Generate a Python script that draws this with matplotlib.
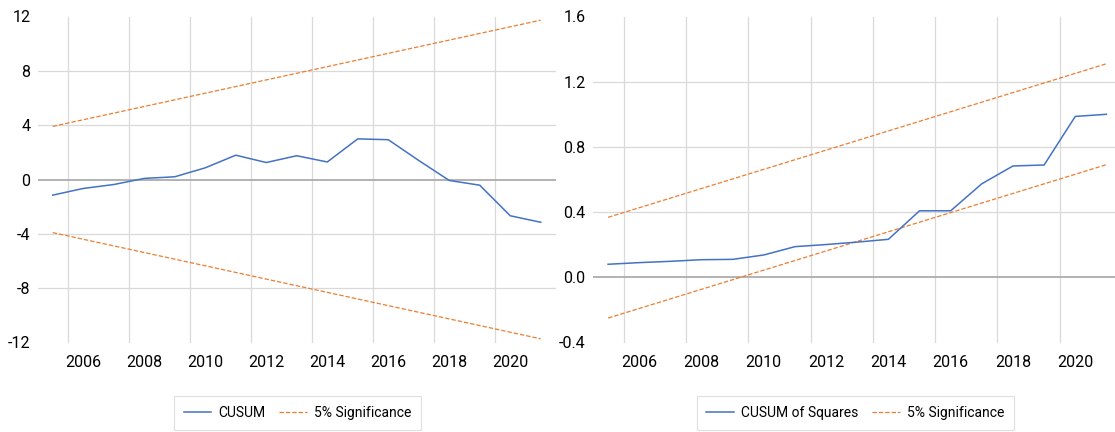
import matplotlib
matplotlib.use("Agg")
import matplotlib.pyplot as plt
from matplotlib.lines import Line2D

plt.rcParams['font.family'] = ['Roboto', 'DejaVu Sans']

# ---- data -------------------------------------------------------------
years = list(range(2005, 2022))
cusum = [-1.15, -0.66, -0.37, 0.08, 0.20, 0.86, 1.79, 1.25, 1.75, 1.29,
         2.99, 2.93, 1.40, -0.07, -0.42, -2.67, -3.15]
cusum_sq = [0.080, 0.090, 0.098, 0.108, 0.110, 0.137, 0.188, 0.201, 0.216,
            0.233, 0.408, 0.408, 0.574, 0.683, 0.689, 0.987, 1.000]

bound_years = [2005, 2021]
cusum_upper = [3.91, 11.73]
cusum_lower = [-3.91, -11.73]
sq_upper = [0.368, 1.310]
sq_lower = [-0.250, 0.691]

xtick_years = [2006, 2008, 2010, 2012, 2014, 2016, 2018, 2020]
left_yticks = [-12, -8, -4, 0, 4, 8, 12]
right_yticks = [-0.4, 0.0, 0.4, 0.8, 1.2, 1.6]

# ---- style ------------------------------------------------------------
BLUE = '#4472C4'
ORANGE = '#ED7D31'
GRID = '#D9D9D9'
ZERO = '#A6A6A6'
FS = 11.5

W, H = 1115, 432
fig = plt.figure(figsize=(W / 100, H / 100), dpi=100)


def px_axes(x0, x1, y0, y1):
    return fig.add_axes([x0 / W, 1 - y1 / H, (x1 - x0) / W, (y1 - y0) / H])


def style_axes(ax, yticks, ylim, fmt):
    ax.set_xlim(2004.5, 2021.5)
    ax.set_ylim(*ylim)
    for s in ax.spines.values():
        s.set_visible(False)
    # vertical gridlines sit on category boundaries
    for b in range(2005, 2021, 2):
        ax.axvline(b + 0.5, color=GRID, lw=0.9, zorder=0)
    for t in yticks[1:-1]:
        if abs(t) > 1e-9:
            ax.axhline(t, color=GRID, lw=0.9, zorder=0)
    ax.axhline(0, color=ZERO, lw=1.2, zorder=1)
    ax.set_xticks(xtick_years)
    ax.set_xticklabels([str(y) for y in xtick_years])
    ax.set_yticks(yticks)
    ax.set_yticklabels([fmt(t) for t in yticks])
    ax.tick_params(axis='both', length=0, labelsize=FS, colors='black')
    ax.tick_params(axis='x', pad=9)
    ax.tick_params(axis='y', pad=5)


# ---- CUSUM --------------------------------------------------------------
ax1 = px_axes(37.5, 556, 16.5, 342.5)
style_axes(ax1, left_yticks, (-12, 12), lambda t: f"{t:d}")
l1, = ax1.plot(years, cusum, color=BLUE, lw=1.1, zorder=3)
d1, = ax1.plot(bound_years, cusum_upper, color=ORANGE, lw=0.9,
               dashes=(3.5, 1.6), zorder=2)
ax1.plot(bound_years, cusum_lower, color=ORANGE, lw=0.9,
         dashes=(3.5, 1.6), zorder=2)

# ---- CUSUM of Squares ---------------------------------------------------
ax2 = px_axes(592.5, 1122, 16.5, 342.5)
style_axes(ax2, right_yticks, (-0.4, 1.6), lambda t: f"{t:.1f}")
l2, = ax2.plot(years, cusum_sq, color=BLUE, lw=1.1, zorder=3)
d2, = ax2.plot(bound_years, sq_upper, color=ORANGE, lw=0.9,
               dashes=(3.5, 1.6), zorder=2)
ax2.plot(bound_years, sq_lower, color=ORANGE, lw=0.9,
         dashes=(3.5, 1.6), zorder=2)


def add_legend(label, cx):
    handles = [Line2D([], [], color=BLUE, lw=1.1),
               Line2D([], [], color=ORANGE, lw=0.9, dashes=(3.5, 1.6))]
    leg = fig.legend(handles, [label, '5% Significance'], ncol=2,
                     loc='center', bbox_to_anchor=(cx / W, 1 - 413 / H),
                     frameon=True, fancybox=False, fontsize=10,
                     handlelength=2.0, handletextpad=0.5, columnspacing=1.0,
                     borderpad=0.7, borderaxespad=0, edgecolor='#D9D9D9')
    leg.get_frame().set_linewidth(0.8)
    return leg


add_legend('CUSUM', 297.5)
add_legend('CUSUM of Squares', 855.5)

fig.savefig('out.png', dpi=100)
